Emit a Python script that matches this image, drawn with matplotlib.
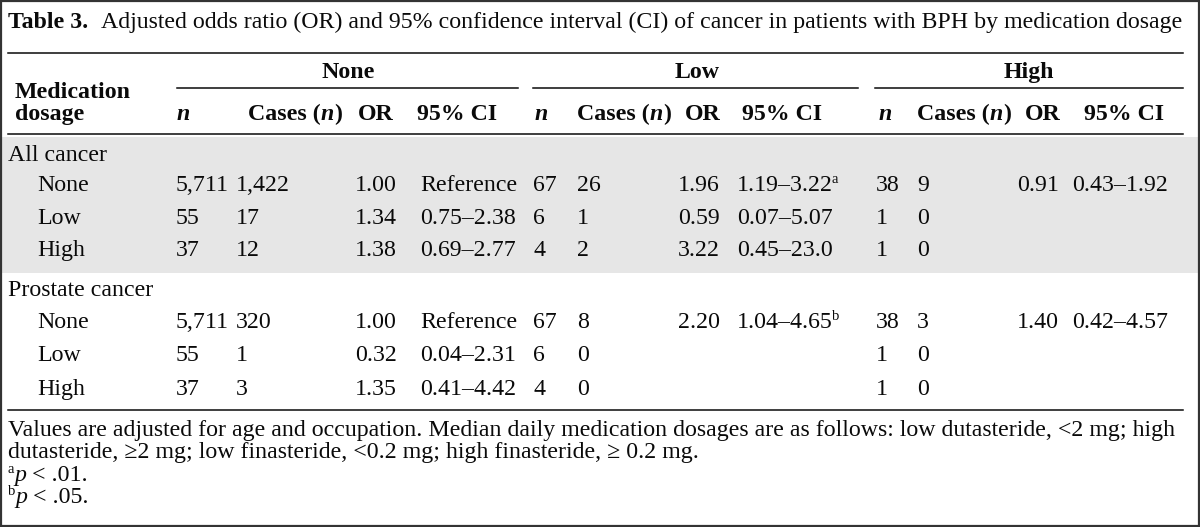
import matplotlib.pyplot as plt
from matplotlib.patches import Rectangle

plt.rcParams['font.family'] = ['Liberation Serif', 'DejaVu Serif']

# table contents
title_bold = 'Table 3.'
title_text = ('Adjusted odds ratio (OR) and 95% confidence interval (CI) '
              'of cancer in patients with BPH by medication dosage')
groups = ['None', 'Low', 'High']
sections = ['All cancer', 'Prostate cancer']
dosages = ['None', 'Low', 'High']

all_n = [[5711, 67, 38], [55, 6, 1], [37, 4, 1]]
all_cases = [[1422, 26, 9], [17, 1, 0], [12, 2, 0]]
all_or = [[1.00, 1.96, 0.91], [1.34, 0.59, None], [1.38, 3.22, None]]
all_ci = [['Reference', '1.19–3.22', '0.43–1.92'],
          ['0.75–2.38', '0.07–5.07', ''],
          ['0.69–2.77', '0.45–23.0', '']]
all_sup = [['', 'a', ''], ['', '', ''], ['', '', '']]

pro_n = [[5711, 67, 38], [55, 6, 1], [37, 4, 1]]
pro_cases = [[320, 8, 3], [1, 0, 0], [3, 0, 0]]
pro_or = [[1.00, 2.20, 1.40], [0.32, None, None], [1.35, None, None]]
pro_ci = [['Reference', '1.04–4.65', '0.42–4.57'],
          ['0.04–2.31', '', ''],
          ['0.41–4.42', '', '']]
pro_sup = [['', 'b', ''], ['', '', ''], ['', '', '']]

note_lines = ['Values are adjusted for age and occupation. Median daily medication '
              'dosages are as follows: low dutasteride, <2 mg; high',
              'dutasteride, ≥2 mg; low finasteride, <0.2 mg; high finasteride, ≥ 0.2 mg.']
note_sups = [('a', ' < .01.'), ('b', ' < .05.')]

# layout (pixels)
FS = 17.2
INK = '#0a0a0a'
W, H = 1200, 527
grp_cx = [348, 697, 1029]
grp_line = [(177, 518), (533, 858), (875, 1183)]
hdr_n_x = [177, 535, 879]
hdr_cases_x = [248, 577, 917]
hdr_or_r = [394, 721, 1061]
hdr_ci_x = [417, 742, 1084]
col_n = [176, 533, 876]
col_cases = [236, 577, 917]
col_or_r = [397, 720, 1059]
col_ci = [420, 737, 1072]
sec_y = [155, 290]
row_y = [[185, 218, 250], [322, 355, 389]]

fig = plt.figure(figsize=(W / 100, H / 100), dpi=100)
ax = fig.add_axes([0, 0, 1, 1])
ax.set_xlim(0, W)
ax.set_ylim(H, 0)
ax.axis('off')
renderer = fig.canvas.get_renderer()


def txt(x, y, s, **kw):
    kw.setdefault('fontsize', FS)
    kw.setdefault('color', INK)
    kw.setdefault('va', 'baseline')
    return ax.text(x, y, s, **kw)


def runs(x, y, pieces):
    # draw consecutive text pieces with different styles
    for s, kw in pieces:
        t = txt(x, y, s, **kw)
        x += t.get_window_extent(renderer).width
    return x


def bl(yc):
    return yc + 6


# background band and border
ax.add_patch(Rectangle((2, 137), W - 4, 136, facecolor='#e6e6e6', edgecolor='none'))
ax.add_patch(Rectangle((1, 1), W - 2, H - 2, facecolor='none', edgecolor='#333333', lw=1.6))

# title
x = runs(8, bl(22), [(title_bold, dict(fontweight='bold'))])
txt(x + 13, bl(22), title_text)
ax.plot([8, 1183], [53, 53], color=INK, lw=1.1)

# header
txt(15, bl(92), 'Medication', fontweight='bold')
txt(15, bl(114), 'dosage', fontweight='bold')
for g in range(3):
    txt(grp_cx[g], bl(72), groups[g], fontweight='bold', ha='center')
    ax.plot(grp_line[g], [88, 88], color=INK, lw=1.1)
    hy = bl(114)
    txt(hdr_n_x[g], hy, 'n', fontweight='bold', fontstyle='italic')
    runs(hdr_cases_x[g], hy, [('Cases (', dict(fontweight='bold')),
                              ('n', dict(fontweight='bold', fontstyle='italic')),
                              (')', dict(fontweight='bold'))])
    txt(hdr_or_r[g], hy, 'OR', fontweight='bold', ha='right')
    txt(hdr_ci_x[g], hy, '95% CI', fontweight='bold')
ax.plot([8, 1183], [134, 134], color=INK, lw=1.1)

# body
blocks = [(all_n, all_cases, all_or, all_ci, all_sup),
          (pro_n, pro_cases, pro_or, pro_ci, pro_sup)]
for s, (ns, cs, ors, cis, sups) in enumerate(blocks):
    txt(8, bl(sec_y[s]), sections[s])
    for r in range(3):
        y = bl(row_y[s][r])
        txt(37, y, dosages[r])
        for g in range(3):
            txt(col_n[g], y, f'{ns[r][g]:,}')
            txt(col_cases[g], y, f'{cs[r][g]:,}')
            if ors[r][g] is not None:
                txt(col_or_r[g], y, f'{ors[r][g]:.2f}', ha='right')
            if cis[r][g]:
                x = runs(col_ci[g], y, [(cis[r][g], {})])
                if sups[r][g]:
                    txt(x - 1, y - 8, sups[r][g], fontsize=10.5)
ax.plot([8, 1183], [410, 410], color=INK, lw=1.1)

# notes
note_y = [430, 452, 475, 497]
for i, line in enumerate(note_lines):
    txt(8, bl(note_y[i]), line)
for i, (sup, rest) in enumerate(note_sups):
    y = bl(note_y[2 + i])
    x = runs(8, y - 8, [(sup, dict(fontsize=10.5))])
    x = runs(x, y, [('p', dict(fontstyle='italic'))])
    txt(x, y, rest)

fig.savefig('out.png', dpi=100)
